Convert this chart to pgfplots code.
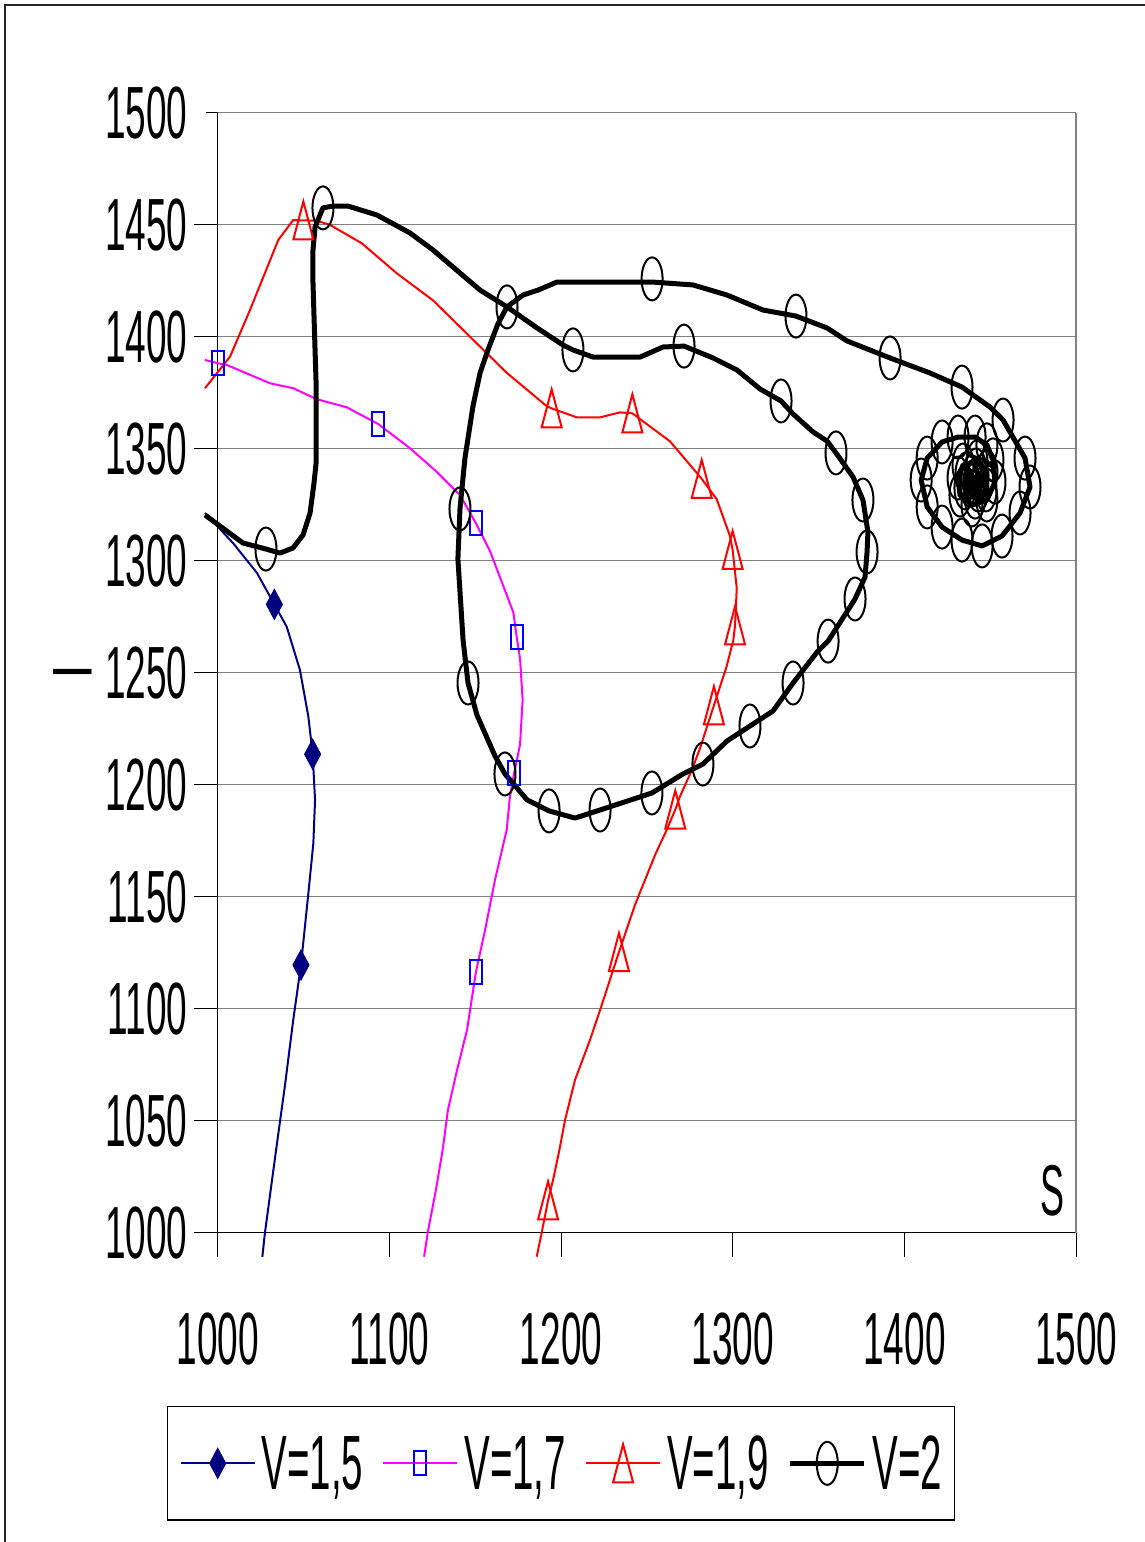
\documentclass[border=0pt]{standalone}
\usepackage{fontspec}
\setmainfont{Liberation Sans}[FakeStretch=0.5]
\usepackage{pgfplots}
\pgfplotsset{compat=1.18}
\definecolor{xlnavy}{RGB}{0,0,128}
\definecolor{xlmag}{RGB}{255,0,255}
\definecolor{xlblue}{RGB}{0,0,255}
\definecolor{xlred}{RGB}{255,0,0}
\definecolor{xlgrid}{RGB}{128,128,128}
\pgfdeclareplotmark{xell}{\pgfpathellipse{\pgfpointorigin}{\pgfqpoint{10.5pt}{0pt}}{\pgfqpoint{0pt}{21.5pt}}\pgfusepathqstroke}
\pgfdeclareplotmark{xtri}{\pgfpathmoveto{\pgfqpoint{0pt}{19pt}}\pgfpathlineto{\pgfqpoint{-10pt}{-19pt}}\pgfpathlineto{\pgfqpoint{10pt}{-19pt}}\pgfpathclose\pgfusepathqstroke}
\pgfdeclareplotmark{xsq}{\pgfpathrectangle{\pgfqpoint{-6pt}{-12pt}}{\pgfqpoint{12pt}{24pt}}\pgfusepathqstroke}
\pgfdeclareplotmark{xdia}{\pgfpathmoveto{\pgfqpoint{0pt}{15pt}}\pgfpathlineto{\pgfqpoint{-8pt}{0pt}}\pgfpathlineto{\pgfqpoint{0pt}{-15pt}}\pgfpathlineto{\pgfqpoint{8pt}{0pt}}\pgfpathclose\pgfusepathqfillstroke}
\begin{document}
\begin{tikzpicture}
\useasboundingbox (0pt,0pt) rectangle (1145pt,1542pt);
\draw[line width=2pt,black!85] (5pt,0pt) -- (5pt,1537.3pt) -- (1145pt,1537.3pt);
\begin{axis}[
 at={(217.7pt,309.3pt)}, anchor=south west,
 scale only axis, width=858.5pt, height=1120pt,
 xmin=1000, xmax=1500, ymin=1000, ymax=1500,
 clip=false,
 axis x line*=bottom, axis y line*=left,
 axis line style={black, line width=1.5pt, -},
 xtick={1000,1100,...,1500}, ytick={1000,1050,...,1500},
 tick align=outside, major tick length=24pt,
 tick style={black, line width=1.2pt},
 ytick style={shorten <=12pt},
 ymajorgrids, major grid style={xlgrid, line width=1.5pt},
 extra x ticks={1500}, extra x tick labels={}, extra x tick style={grid=major},
 /pgf/number format/assume math mode=true,
 /pgf/number format/1000 sep={},
 tick label style={font=\fontsize{74}{80}\selectfont, inner sep=0pt},
 xticklabel style={anchor=north, yshift=-56pt},
 yticklabel style={anchor=east, xshift=-6pt},
 xlabel={S},
 xlabel style={at={(axis description cs:1,0)}, anchor=south east, inner sep=0pt, xshift=-11pt, yshift=16pt, font=\fontsize{72}{80}\selectfont},
 ylabel={\textemdash},
 ylabel style={at={(axis description cs:0,0.5)}, rotate=-90, anchor=center, inner sep=0pt, xshift=-145pt, yshift=-8pt, font=\fontsize{77}{80}\selectfont},
 legend columns=4,
 legend style={at={(axis description cs:-0.0591,-0.1547)}, anchor=north west, draw=black, line width=1.5pt, inner xsep=12pt, inner ysep=29pt, font=\fontsize{77}{80}\selectfont, nodes={inner sep=0pt}, /tikz/every odd column/.append style={column sep=6pt}, /tikz/every even column/.append style={column sep=19pt}},
 legend image code/.code={\draw[mark repeat=2,mark phase=2,#1] plot coordinates {(0pt,0pt) (37pt,0pt) (74pt,0pt)};},
]
% V=1,5
\addplot[xlnavy, line width=2pt, line join=round, forget plot] coordinates {
(992.6,1321.3) (1008.9,1307.9) (1022.9,1294.5) (1033.0,1280.5) (1040.2,1270.5) (1047.9,1251.2) (1052.8,1230.4) (1055.3,1213.6) (1056.7,1193.2) (1055.7,1173.8) (1052.8,1151.5) (1048.5,1119.5) (1044.0,1095.0) (1039.2,1065.9) (1034.0,1036.9) (1027.5,999.9) (1026.0,989.2)};
\addplot[only marks, mark=xdia, mark options={fill=xlnavy, draw=xlnavy, line width=1pt}, forget plot] coordinates {
(1033.0,1280.5) (1055.3,1213.6) (1048.5,1119.5)};
% V=1,7
\addplot[xlmag, line width=2pt, line join=round, forget plot] coordinates {
(992.6,1389.6) (1000.3,1388.1) (1005.2,1387.4) (1030.5,1379.2) (1044.0,1377.0) (1057.7,1372.1) (1075.1,1368.5) (1093.5,1361.0) (1112.0,1350.2) (1127.5,1339.7) (1141.1,1329.3) (1150.4,1316.7) (1158.6,1304.3) (1172.2,1276.9) (1174.1,1266.1) (1176.1,1256.2) (1177.6,1237.9) (1176.1,1218.0) (1172.6,1205.0) (1170.2,1194.7) (1168.3,1179.8) (1161.5,1157.5) (1155.7,1135.1) (1150.4,1116.4) (1145.2,1090.5) (1139.4,1072.6) (1134.1,1054.8) (1131.0,1036.9) (1127.1,1019.1) (1122.3,1000.0) (1120.2,989.3)};
\addplot[only marks, mark=xsq, mark options={draw=xlblue, line width=2pt}, forget plot] coordinates {
(1000.3,1388.1) (1093.5,1361.0) (1150.4,1316.7) (1174.1,1266.1) (1172.6,1205.0) (1150.4,1116.4)};
% V=1,9
\addplot[xlred, line width=2pt, line join=round, forget plot] coordinates {
(992.6,1377.0) (1007.2,1391.1) (1018.8,1411.9) (1035.3,1443.2) (1044.0,1452.1) (1049.9,1451.9) (1057.7,1451.8) (1065.4,1449.9) (1083.9,1441.7) (1104.3,1428.3) (1125.6,1416.1) (1146.9,1400.0) (1168.3,1383.9) (1191.6,1369.0) (1194.5,1368.0) (1209.1,1364.0) (1222.7,1364.0) (1234.3,1366.2) (1241.5,1365.8) (1246.0,1363.2) (1263.4,1353.3) (1279.0,1339.2) (1281.9,1336.5) (1290.6,1327.5) (1298.4,1310.9) (1299.9,1304.8) (1302.3,1287.7) (1301.3,1271.1) (1300.3,1264.5) (1296.4,1252.8) (1289.0,1235.4) (1280.9,1216.3) (1276.1,1206.4) (1269.2,1194.7) (1266.5,1188.9) (1261.5,1179.8) (1254.7,1168.6) (1243.0,1146.3) (1233.7,1125.3) (1222.7,1099.4) (1216.8,1086.0) (1208.1,1068.2) (1202.3,1050.3) (1199.0,1036.9) (1195.3,1023.5) (1192.4,1014.4) (1188.7,1000.0) (1185.8,989.3)};
\addplot[only marks, mark=xtri, mark options={draw=xlred, line width=2pt}, forget plot] coordinates {
(1049.9,1451.9) (1194.5,1368.0) (1241.5,1365.8) (1281.9,1336.5) (1299.9,1304.8) (1301.3,1271.1) (1289.0,1235.4) (1266.5,1188.9) (1233.7,1125.3) (1192.4,1014.4)};
% V=2
\addplot[black, line width=5pt, line join=round, forget plot] coordinates {
(992.6,1320.4) (1014.7,1307.9) (1028.1,1305.2) (1036.3,1303.4) (1043.9,1305.7) (1049.7,1311.5) (1053.8,1321.3) (1056.1,1334.7) (1057.3,1343.6) (1057.3,1379.3) (1055.5,1424.0) (1055.5,1438.7) (1056.7,1449.0) (1061.3,1457.5) (1067.1,1458.3) (1075.9,1458.3) (1092.8,1454.3) (1112.0,1446.3) (1125.4,1438.7) (1152.8,1420.8) (1168.5,1413.3) (1186.0,1403.9) (1201.1,1396.3) (1206.9,1394.1) (1218.6,1390.9) (1246.0,1390.9) (1259.4,1395.4) (1271.6,1395.8) (1288.5,1390.5) (1302.5,1385.1) (1315.8,1376.7) (1328.1,1371.3) (1335.1,1365.5) (1346.7,1357.5) (1354.9,1353.4) (1360.1,1348.1) (1370.0,1337.4) (1375.8,1327.1) (1378.7,1312.8) (1378.2,1303.9) (1377.0,1292.7) (1371.2,1282.9) (1368.2,1279.3) (1355.5,1264.1) (1349.1,1259.2) (1335.1,1245.4) (1323.4,1232.9) (1310.0,1226.2) (1296.6,1219.5) (1282.6,1209.2) (1271.0,1204.8) (1252.9,1196.3) (1222.7,1188.7) (1208.1,1185.1) (1193.0,1188.3) (1180.2,1193.2) (1167.3,1204.8) (1161.5,1212.8) (1151.0,1231.1) (1145.8,1245.4) (1142.9,1264.6) (1139.9,1300.8) (1141.1,1323.1) (1144.0,1345.8) (1148.7,1369.1) (1152.8,1383.8) (1157.4,1394.1) (1163.2,1405.7) (1168.5,1413.3) (1177.8,1418.6) (1186.6,1420.8) (1197.6,1424.4) (1253.0,1424.4) (1276.8,1423.1) (1296.6,1418.6) (1317.6,1411.9) (1336.8,1409.2) (1354.9,1403.9) (1366.5,1398.1) (1391.6,1390.5) (1414.8,1383.8) (1433.5,1377.5) (1449.8,1368.6) (1457.4,1362.8) (1470.2,1345.8) (1473.1,1332.9) (1467.3,1321.3) (1456.8,1311.0) (1445.2,1306.6) (1433.5,1309.2) (1421.9,1315.0) (1413.2,1324.0) (1409.7,1336.0) (1413.2,1345.8) (1421.9,1353.0) (1431.2,1355.2) (1441.1,1355.2) (1448.0,1351.7) (1451.5,1345.0) (1452.7,1335.1) (1448.0,1327.1) (1439.3,1324.9) (1432.3,1329.3) (1431.2,1336.9) (1434.1,1342.7) (1442.2,1344.1) (1448.0,1339.6) (1447.5,1331.6) (1441.1,1328.4) (1435.2,1332.5) (1435.8,1338.7) (1441.6,1340.5) (1445.7,1336.0) (1442.8,1331.6) (1438.2,1333.8) (1439.3,1337.4) (1442.8,1336.5) (1441.1,1334.2) (1440.5,1335.5)};
\addplot[only marks, mark=xell, mark options={draw=black, line width=2pt}, forget plot] coordinates {
(1028.1,1305.2) (1061.3,1457.5) (1168.5,1413.3) (1206.9,1394.1) (1271.6,1395.8) (1328.1,1371.3) (1360.1,1348.1) (1375.8,1327.1) (1378.2,1303.9) (1371.2,1282.9) (1355.5,1264.1) (1335.1,1245.4) (1310.0,1226.2) (1282.6,1209.2) (1252.9,1196.3) (1222.7,1188.7) (1193.0,1188.3) (1167.3,1204.8) (1145.8,1245.4) (1141.1,1323.1) (1253.0,1425.8) (1336.8,1409.2) (1391.6,1390.5) (1433.5,1377.5) (1457.4,1362.8) (1470.2,1345.8) (1473.1,1332.9) (1467.3,1321.3) (1456.8,1311.0) (1445.2,1306.6) (1433.5,1309.2) (1421.9,1315.0) (1413.2,1324.0) (1409.7,1336.0) (1413.2,1345.8) (1421.9,1353.0) (1431.2,1355.2) (1441.1,1355.2) (1448.0,1351.7) (1451.5,1345.0) (1452.7,1335.1) (1448.0,1327.1) (1439.3,1324.9) (1432.3,1329.3) (1431.2,1336.9) (1434.1,1342.7) (1442.2,1344.1) (1448.0,1339.6) (1447.5,1331.6) (1441.1,1328.4) (1435.2,1332.5) (1435.8,1338.7) (1441.6,1340.5) (1445.7,1336.0) (1442.8,1331.6) (1438.2,1333.8) (1439.3,1337.4) (1442.8,1336.5) (1441.1,1334.2) (1440.5,1335.5)};
\addlegendimage{xlnavy, line width=2pt, mark=xdia, mark options={fill=xlnavy, draw=xlnavy, line width=1pt}}
\addlegendentry{V=1,5}
\addlegendimage{xlmag, line width=2pt, mark=xsq, mark options={draw=xlblue, line width=2pt}}
\addlegendentry{V=1,7}
\addlegendimage{xlred, line width=2pt, mark=xtri, mark options={draw=xlred, line width=2pt}}
\addlegendentry{V=1,9}
\addlegendimage{black, line width=5pt, mark=xell, mark options={draw=black, line width=2pt}}
\addlegendentry{V=2}
\end{axis}
\end{tikzpicture}
\end{document}
